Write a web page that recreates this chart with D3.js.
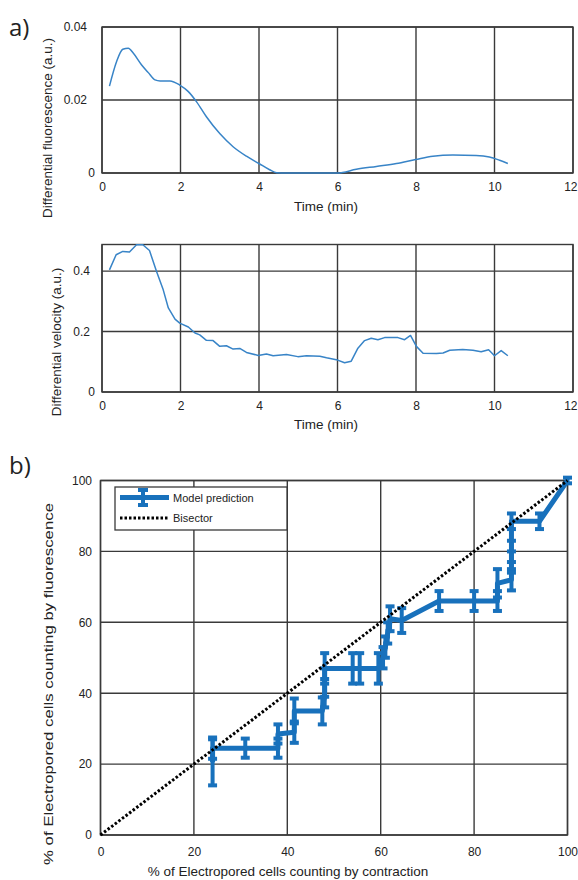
<!DOCTYPE html>
<html>
<head>
<meta charset="utf-8">
<script src="https://cdn.jsdelivr.net/npm/d3@7"></script>
<style>
  body { margin: 0; background: #fff; }
  svg text { font-family: "Liberation Sans", Arial, sans-serif; fill: #222; }
</style>
</head>
<body>
<div id="chart"></div>
<script>
// values
const fluoTime = [0.19, 0.37, 0.53, 0.67, 0.8, 1.01, 1.18, 1.35, 1.48, 1.73, 1.98, 2.2, 2.41, 2.66, 3.0, 3.34, 3.68, 4.0, 4.27, 4.45, 4.7, 5.2, 5.6, 6.0, 6.48, 6.99, 7.5, 7.99, 8.43, 8.94, 9.53, 9.87, 10.13, 10.34];
const fluoValue = [0.0238, 0.0305, 0.0339, 0.0342, 0.0328, 0.0296, 0.0275, 0.0255, 0.0252, 0.0252, 0.0241, 0.0223, 0.0195, 0.0154, 0.0108, 0.0072, 0.0046, 0.0026, 0.0009, 0.0001, 0, 0, 0, 0, 0.001, 0.0018, 0.0026, 0.0037, 0.0046, 0.0049, 0.0048, 0.0044, 0.0035, 0.0026];

const veloTime = [0.19, 0.36, 0.53, 0.7, 0.88, 1.04, 1.21, 1.39, 1.56, 1.69, 1.86, 1.98, 2.2, 2.37, 2.49, 2.66, 2.83, 3.0, 3.17, 3.34, 3.51, 3.68, 3.98, 4.19, 4.36, 4.7, 4.99, 5.21, 5.55, 5.72, 5.97, 6.18, 6.35, 6.52, 6.69, 6.86, 7.03, 7.2, 7.54, 7.71, 7.86, 8.01, 8.18, 8.52, 8.69, 8.86, 9.19, 9.45, 9.66, 9.85, 10.0, 10.17, 10.34];
const veloValue = [0.404, 0.454, 0.465, 0.463, 0.487, 0.487, 0.468, 0.399, 0.338, 0.278, 0.241, 0.228, 0.215, 0.195, 0.189, 0.171, 0.170, 0.151, 0.153, 0.142, 0.144, 0.131, 0.121, 0.126, 0.120, 0.124, 0.117, 0.120, 0.118, 0.113, 0.107, 0.097, 0.102, 0.145, 0.170, 0.178, 0.173, 0.180, 0.180, 0.173, 0.187, 0.151, 0.128, 0.127, 0.129, 0.138, 0.141, 0.138, 0.133, 0.140, 0.120, 0.137, 0.120];

const predContraction = [24, 24, 31, 38, 38, 41.5, 41.5, 47.5, 48, 48, 48, 54, 55.5, 59.5, 60.5, 61, 61.5, 62, 64.5, 72.5, 80, 85, 85, 88, 88, 88, 88, 94, 100];
const predFluorescence = [20.5, 24.5, 24.5, 24.5, 28.5, 29, 35, 35, 40, 43, 47, 47, 47, 47, 50, 53, 57, 61, 60.5, 66, 66, 66, 71, 72, 77, 80, 88.5, 88.5, 100];
const predError = [6.5, 3, 2.7, 2.7, 2.7, 3, 3.5, 3.8, 4, 4, 4.3, 4.3, 4.3, 4.3, 3, 3, 3, 3.5, 3.5, 2.8, 2.8, 2.8, 4, 3, 3, 3, 2.2, 2.2, 0.8];

const timeTicks = [0, 2, 4, 6, 8, 10, 12];
const fluoTicks = [0, 0.02, 0.04];
const veloTicks = [0, 0.2, 0.4];
const pctTicks = [0, 20, 40, 60, 80, 100];

const gridColor = "#3a3a3a";
const traceColor = "#3884c7";
const modelColor = "#1871bc";

const svg = d3.select("#chart").append("svg")
    .attr("width", 578)
    .attr("height", 880);

// panel letters
svg.append("text").attr("x", 9).attr("y", 36)
    .style("font-family", "'Open Sans', sans-serif").style("font-size", "24px")
    .text("a)");
svg.append("text").attr("x", 9).attr("y", 474)
    .style("font-family", "'Open Sans', sans-serif").style("font-size", "24px")
    .text("b)");

function drawGrid(g, x, y, xTicks, yTicks) {
    g.selectAll(".vgrid").data(xTicks).enter().append("line")
        .attr("x1", d => x(d)).attr("x2", d => x(d))
        .attr("y1", y.range()[0]).attr("y2", y.range()[1])
        .attr("stroke", gridColor).attr("stroke-width", 1.4);
    g.selectAll(".hgrid").data(yTicks).enter().append("line")
        .attr("y1", d => y(d)).attr("y2", d => y(d))
        .attr("x1", x.range()[0]).attr("x2", x.range()[1])
        .attr("stroke", gridColor).attr("stroke-width", 1.4);
    g.append("rect")
        .attr("x", x.range()[0]).attr("y", y.range()[1])
        .attr("width", x.range()[1] - x.range()[0])
        .attr("height", y.range()[0] - y.range()[1])
        .attr("fill", "none").attr("stroke", gridColor).attr("stroke-width", 1.4);
}

// one of the two time traces of panel a
function drawTrace(opts) {
    let x = d3.scaleLinear().domain([0, 12]).range([102, 573]);
    let y = d3.scaleLinear().domain(opts.yDomain).range(opts.yRange);
    let g = svg.append("g");

    drawGrid(g, x, y, timeTicks, opts.yTicks);

    g.append("g")
        .attr("transform", "translate(0," + opts.yRange[0] + ")")
        .call(d3.axisBottom(x).tickValues(timeTicks).tickSize(0).tickPadding(opts.xPad).tickFormat(d3.format("d")))
        .call(a => a.select(".domain").remove())
        .selectAll("text").style("font-size", "12px").attr("fill", "#222")
        // the last label sits against the page edge
        .filter(d => d === 12).attr("text-anchor", "end").attr("dx", 4);

    g.append("g")
        .attr("transform", "translate(" + opts.zeroRight + ",0)")
        .call(d3.axisLeft(y).tickValues(opts.yTicks).tickSize(0).tickPadding(0).tickFormat(d => d === 0 ? "0" : d3.format(opts.fmt)(d)))
        .call(a => a.select(".domain").remove())
        .selectAll("text").style("font-size", "12px").attr("fill", "#222")
        .attr("x", d => d === 0 ? 0 : opts.decimalShift);

    let data = opts.t.map((t, i) => ({ t: t, v: opts.v[i] }));
    g.append("path")
        .datum(data)
        .attr("d", d3.line().x(d => x(d.t)).y(d => y(d.v)).curve(opts.curve))
        .attr("fill", "none")
        .attr("stroke", traceColor)
        .attr("stroke-width", 1.5)
        .attr("stroke-linejoin", "round");

    g.append("text")
        .attr("x", 326).attr("y", opts.xLabelY)
        .attr("text-anchor", "middle").style("font-size", "13.5px")
        .text("Time (min)");
    g.append("text")
        .attr("transform", "translate(" + opts.yLabelX + "," + opts.yLabelCenter + ") rotate(-90)")
        .attr("text-anchor", "middle").style("font-size", "13.5px")
        .text(opts.yLabel);
}

drawTrace({
    t: fluoTime, v: fluoValue,
    yDomain: [0, 0.04], yRange: [173, 27], yTicks: fluoTicks, fmt: ".2f",
    zeroRight: 95, decimalShift: -8, xPad: 9, xLabelY: 211,
    yLabel: "Differential fluorescence (a.u.)", yLabelX: 52, yLabelCenter: 128,
    curve: d3.curveMonotoneX
});

drawTrace({
    t: veloTime, v: veloValue,
    yDomain: [0, 0.488], yRange: [392, 244.5], yTicks: veloTicks, fmt: ".1f",
    zeroRight: 95, decimalShift: -5, xPad: 9, xLabelY: 429,
    yLabel: "Differential velocity (a.u.)", yLabelX: 61, yLabelCenter: 342,
    curve: d3.curveLinear
});

// panel b
let xb = d3.scaleLinear().domain([0, 100]).range([100.5, 567.5]);
let yb = d3.scaleLinear().domain([0, 100]).range([835, 480.5]);
let gb = svg.append("g");

drawGrid(gb, xb, yb, pctTicks, pctTicks);

gb.append("g")
    .attr("transform", "translate(0,835)")
    .call(d3.axisBottom(xb).tickValues(pctTicks).tickSize(0).tickPadding(12))
    .call(a => a.select(".domain").remove())
    .selectAll("text").style("font-size", "12px").attr("fill", "#222");

gb.append("g")
    .attr("transform", "translate(92,0)")
    .call(d3.axisLeft(yb).tickValues(pctTicks).tickSize(0).tickPadding(0))
    .call(a => a.select(".domain").remove())
    .selectAll("text").style("font-size", "12px").attr("fill", "#222");

let pred = predContraction.map((c, i) => ({ x: c, y: predFluorescence[i], e: predError[i] }));

gb.append("path")
    .datum(pred)
    .attr("d", d3.line().x(d => xb(d.x)).y(d => yb(d.y)))
    .attr("fill", "none")
    .attr("stroke", modelColor)
    .attr("stroke-width", 5)
    .attr("stroke-linejoin", "round");

let bars = gb.selectAll(".err").data(pred).enter().append("g");
bars.append("line")
    .attr("x1", d => xb(d.x)).attr("x2", d => xb(d.x))
    .attr("y1", d => yb(d.y - d.e)).attr("y2", d => yb(d.y + d.e))
    .attr("stroke", modelColor).attr("stroke-width", 4);
bars.append("line")
    .attr("x1", d => xb(d.x) - 4.5).attr("x2", d => xb(d.x) + 4.5)
    .attr("y1", d => yb(d.y - d.e)).attr("y2", d => yb(d.y - d.e))
    .attr("stroke", modelColor).attr("stroke-width", 4);
bars.append("line")
    .attr("x1", d => xb(d.x) - 4.5).attr("x2", d => xb(d.x) + 4.5)
    .attr("y1", d => yb(d.y + d.e)).attr("y2", d => yb(d.y + d.e))
    .attr("stroke", modelColor).attr("stroke-width", 4);

// bisector on top of the model
gb.append("line")
    .attr("x1", xb(0)).attr("y1", yb(0))
    .attr("x2", xb(100)).attr("y2", yb(100))
    .attr("stroke", "#000").attr("stroke-width", 3)
    .attr("stroke-dasharray", "2.5,2");

// legend
let lg = gb.append("g").attr("transform", "translate(115,487)");
lg.append("rect").attr("width", 172).attr("height", 43)
    .attr("fill", "#fff").attr("stroke", gridColor).attr("stroke-width", 1.3);
lg.append("line").attr("x1", 5).attr("x2", 54).attr("y1", 10.5).attr("y2", 10.5)
    .attr("stroke", modelColor).attr("stroke-width", 5);
lg.append("line").attr("x1", 28).attr("x2", 28).attr("y1", 2).attr("y2", 19)
    .attr("stroke", modelColor).attr("stroke-width", 4);
lg.append("line").attr("x1", 23).attr("x2", 33).attr("y1", 3).attr("y2", 3)
    .attr("stroke", modelColor).attr("stroke-width", 4);
lg.append("line").attr("x1", 23).attr("x2", 33).attr("y1", 18).attr("y2", 18)
    .attr("stroke", modelColor).attr("stroke-width", 4);
lg.append("text").attr("x", 58).attr("y", 14.5).style("font-size", "11px").text("Model prediction");
lg.append("line").attr("x1", 5).attr("x2", 54).attr("y1", 31).attr("y2", 31)
    .attr("stroke", "#000").attr("stroke-width", 3).attr("stroke-dasharray", "2.5,2");
lg.append("text").attr("x", 58).attr("y", 35).style("font-size", "11px").text("Bisector");

gb.append("text")
    .attr("x", 288).attr("y", 876)
    .attr("text-anchor", "middle").style("font-size", "13.5px")
    .text("% of Electropored cells counting by contraction");
gb.append("text")
    .attr("transform", "translate(53,684) rotate(-90)")
    .attr("text-anchor", "middle").style("font-size", "13.5px")
    .attr("textLength", 362).attr("lengthAdjust", "spacingAndGlyphs")
    .text("% of Electropored cells counting by fluorescence");
</script>
</body>
</html>
